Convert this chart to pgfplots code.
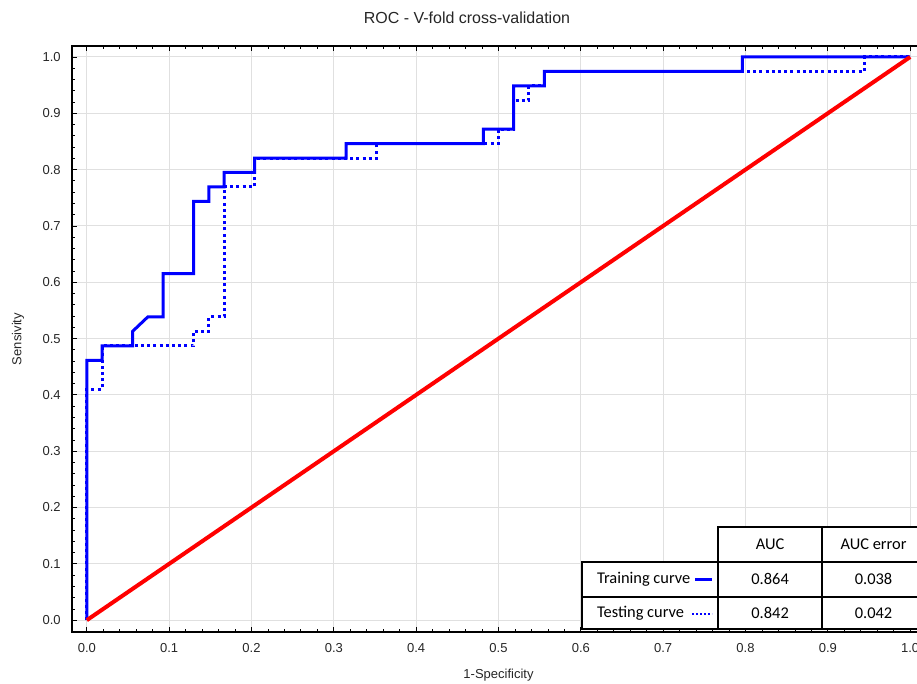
\documentclass[border=0pt]{standalone}
\usepackage{fontspec}
\setmainfont{Liberation Sans}
\newfontfamily\calibri{Carlito}
\usepackage{pgfplots}
\pgfplotsset{compat=1.18}
\begin{document}
\begin{tikzpicture}
\begin{axis}[name=ax, scale only axis, width=426.5pt, height=293pt,
  xmin=-0.018, xmax=1.018, ymin=-0.021, ymax=1.0195,
  xtick={0,0.1,0.2,0.3,0.4,0.5,0.6,0.7,0.8,0.9,1.0},
  ytick={0,0.1,0.2,0.3,0.4,0.5,0.6,0.7,0.8,0.9,1.0},
  minor tick num=4,
  tick align=inside, major tick length=2.5pt, minor tick length=1.5pt,
  tick style={black, line width=0.4pt},
  grid=major, major grid style={line width=0.5pt, color=black!12},
  axis line style={line width=0.8pt},
  /pgf/number format/fixed, /pgf/number format/fixed zerofill,
  /pgf/number format/precision=1, /pgf/number format/assume math mode=true,
  ticklabel style={font=\fontsize{6.5}{7.8}\selectfont, text=black!85},
  yticklabel style={anchor=east, inner sep=0pt, xshift=-5.5pt},
  xticklabel style={anchor=north, inner sep=0pt, yshift=-5.75pt},
  title={ROC - V-fold cross-validation},
  title style={at={(axis description cs:0.463,1.0478)}, anchor=center, yshift=-6pt, inner sep=0pt, font=\fontsize{8}{9.6}\selectfont, text=black!85},
  xlabel={1-Specificity},
  xlabel style={at={(axis description cs:0.5,-0.0734)}, anchor=center, inner sep=0pt, font=\fontsize{6.5}{7.8}\selectfont, text=black!85},
  ylabel={Sensivity},
  ylabel style={at={(axis description cs:-0.0633,0.5)}, anchor=center, inner sep=0pt, font=\fontsize{6.5}{7.8}\selectfont, text=black!85},
  clip=false]
% Testing curve (dotted)
\addplot[blue, line width=1.5pt, dash pattern=on 1.5pt off 1.6pt] coordinates {
(0,0) (0,0.4103) (0.0185,0.4103) (0.0185,0.4872) (0.1296,0.4872) (0.1296,0.5128)
(0.1481,0.5128) (0.1481,0.5385) (0.1667,0.5385) (0.1667,0.7692) (0.2037,0.7692)
(0.2037,0.8205) (0.3519,0.8205) (0.3519,0.8462) (0.5,0.8462) (0.5,0.8718)
(0.5185,0.8718) (0.5185,0.9231) (0.5370,0.9231) (0.5370,0.9487) (0.5556,0.9487)
(0.5556,0.9744) (0.9444,0.9744) (0.9444,1) (1,1)};
% Training curve (solid)
\addplot[blue, line width=1.5pt] coordinates {
(0,0) (0,0.4615) (0.0185,0.4615) (0.0185,0.4872) (0.0556,0.4872) (0.0556,0.5128)
(0.0741,0.5385) (0.0926,0.5385) (0.0926,0.6154) (0.1296,0.6154) (0.1296,0.7436)
(0.1481,0.7436) (0.1481,0.7692) (0.1667,0.7692) (0.1667,0.7949) (0.2037,0.7949)
(0.2037,0.8205) (0.3148,0.8205) (0.3148,0.8462) (0.4815,0.8462) (0.4815,0.8718)
(0.5185,0.8718) (0.5185,0.9487) (0.5556,0.9487) (0.5556,0.9744) (0.7963,0.9744)
(0.7963,1) (1,1)};
% Reference diagonal
\addplot[red, line width=2pt] coordinates {(0,0) (1,1)};
% Table
\fill[white] (0.601,-0.0165) rectangle (1.018,0.1036);
\fill[white] (0.767,0.1036) rectangle (1.018,0.1657);
\draw[line width=1pt] (0.601,-0.0165) rectangle (1.018,0.1036);
\draw[line width=1pt] (0.767,-0.0165) -- (0.767,0.1657) -- (1.018,0.1657) -- (1.018,0.1036);
\draw[line width=1pt] (0.8927,-0.0165) -- (0.8927,0.1657);
\draw[line width=1pt] (0.601,0.0414) -- (1.018,0.0414);
\begin{scope}[every node/.style={font=\calibri\fontsize{8.2}{9.8}\selectfont, inner sep=0pt}]
\node at (0.8299,0.1346) {AUC};
\node at (0.9555,0.1346) {AUC error};
\node[anchor=west] at (0.6193,0.0725) {Training curve};
\node at (0.8299,0.0725) {0.864};
\node at (0.9555,0.0725) {0.038};
\node[anchor=west] at (0.6193,0.0124) {Testing curve};
\node at (0.8299,0.0124) {0.842};
\node at (0.9555,0.0124) {0.042};
\end{scope}
\draw[blue, line width=1.2pt] (0.7388,0.0723) -- (0.7598,0.0723);
\draw[blue, line width=1.2pt, dash pattern=on 1pt off 1pt] (0.7355,0.0107) -- (0.7598,0.0107);
\end{axis}
\pgfresetboundingbox
\path[use as bounding box] ([xshift=-36pt,yshift=-26pt]ax.south west) rectangle ([xshift=-4pt,yshift=23pt]ax.north east);
\end{tikzpicture}
\end{document}
